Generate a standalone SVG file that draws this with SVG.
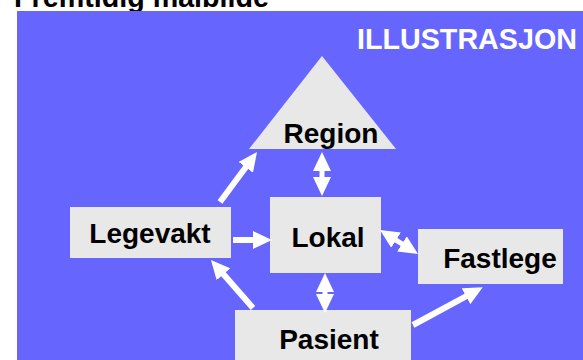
<svg xmlns="http://www.w3.org/2000/svg" width="583" height="360" viewBox="0 0 583 360">
  <style>
    .lbl { font-family: "Liberation Sans", Arial, sans-serif; font-weight: bold; font-size: 28px; fill: #000; text-anchor: middle; }
    .box { fill: #E8E8E8; }
    .conn { stroke: #FFFFFF; stroke-width: 6; fill: none; }
  </style>
  <defs>
    <marker id="ah" markerUnits="userSpaceOnUse" markerWidth="20" markerHeight="18" refX="1" refY="9" orient="auto-start-reverse">
      <path d="M0,0 L19,9 L0,18 Z" fill="#FFFFFF"/>
    </marker>
  </defs>
  <rect width="583" height="360" fill="#FFFFFF"/>
  <text x="14" y="7" style="font-family:'Liberation Sans',Arial,sans-serif;font-weight:bold;font-size:28.7px;fill:#000">Fremtidig målbilde</text>
  <rect x="17" y="11" width="566" height="349" fill="#6666FF"/>
  <text x="357" y="49" style="font-family:'Liberation Sans',Arial,sans-serif;font-weight:bold;font-size:28.7px;fill:#FFFFFF">ILLUSTRASJON</text>

  <g id="region">
    <polygon class="box" points="322,56 249,149 396,149"/>
    <text class="lbl" x="331" y="143">Region</text>
  </g>
  <g id="legevakt">
    <rect class="box" x="70" y="207" width="161" height="51"/>
    <text class="lbl" x="150" y="243">Legevakt</text>
  </g>
  <g id="lokal">
    <rect class="box" x="270" y="197" width="111" height="76"/>
    <text class="lbl" x="328" y="247">Lokal</text>
  </g>
  <g id="fastlege">
    <rect class="box" x="418" y="229" width="145" height="55"/>
    <text class="lbl" x="500" y="268">Fastlege</text>
  </g>
  <g id="pasient">
    <rect class="box" x="235" y="310" width="176" height="60"/>
    <text class="lbl" x="329" y="349">Pasient</text>
  </g>

  <g id="connectors">
    <line class="conn" x1="220" y1="202" x2="246.3" y2="166.5" marker-end="url(#ah)"/>
    <line class="conn" x1="233" y1="240" x2="254" y2="240" marker-end="url(#ah)"/>
    <line class="conn" x1="253" y1="308" x2="222.8" y2="273.5" marker-end="url(#ah)"/>
    <line class="conn" x1="322" y1="170" x2="322" y2="178" style="stroke-width:5" marker-start="url(#ah)" marker-end="url(#ah)"/>
    <line class="conn" x1="325" y1="291" x2="325" y2="295" style="stroke-width:5" marker-start="url(#ah)" marker-end="url(#ah)"/>
    <line class="conn" x1="395.2" y1="239.6" x2="402.8" y2="244.4" style="stroke-width:5" marker-start="url(#ah)" marker-end="url(#ah)"/>
    <line class="conn" x1="413" y1="325" x2="466.9" y2="295.8" marker-end="url(#ah)"/>
  </g>
</svg>
